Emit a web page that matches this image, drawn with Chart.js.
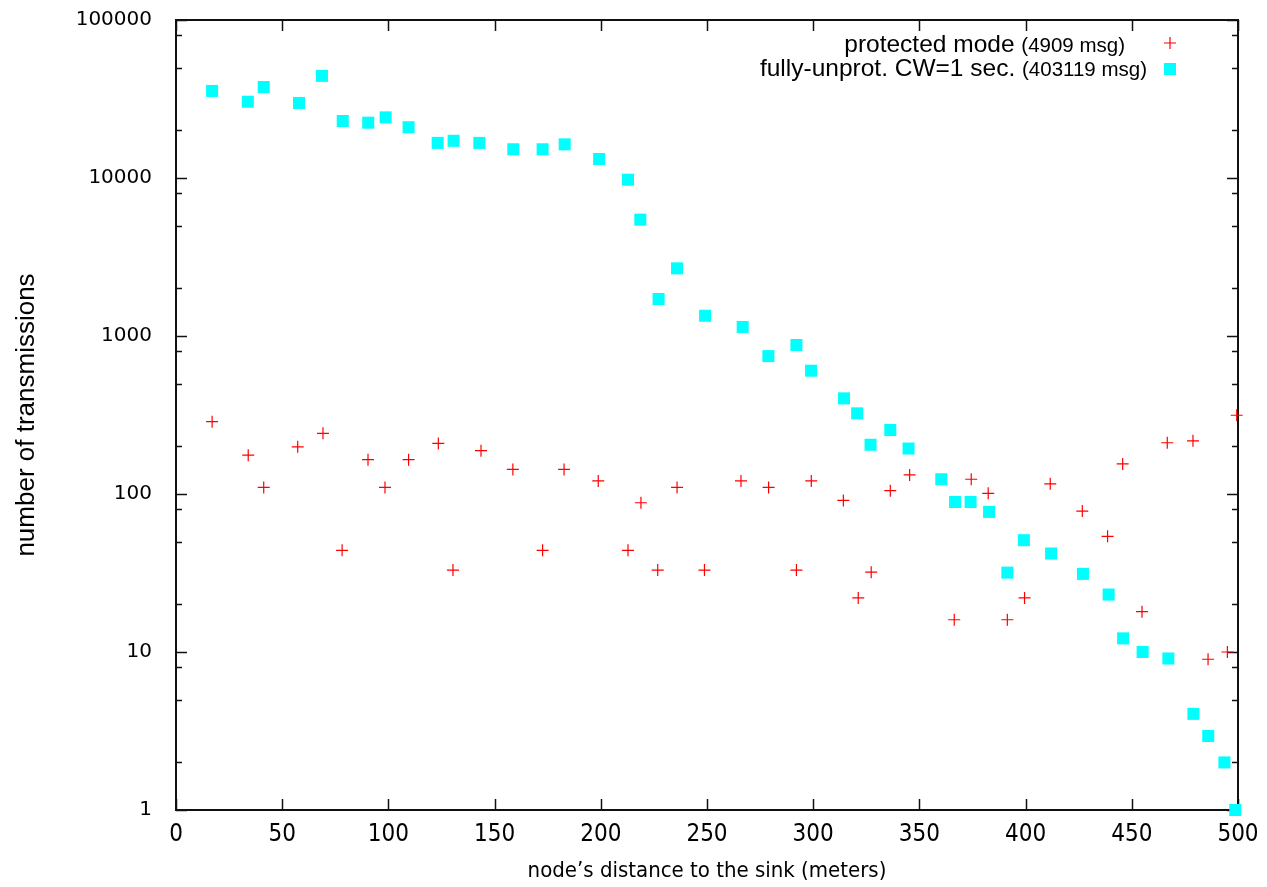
<!DOCTYPE html>
<html>
<head>
<meta charset="utf-8">
<script src="https://cdn.jsdelivr.net/npm/chart.js@4.4.1/dist/chart.umd.min.js"></script>
<style>
  html, body { margin: 0; padding: 0; background: #fff; }
  #c { display: block; }
</style>
</head>
<body>
<canvas id="c" width="1267" height="887"></canvas>
<script>
// datos (distancia en metros / nº de transmisiones)
var distProt = [17, 34, 41.3, 57.3, 69.2, 78.2, 90.4, 98.4, 109.5, 123.5, 130.4, 143.6, 158.6, 172.6, 182.7,
  198.8, 212.8, 218.9, 226.8, 235.9, 248.8, 266, 279, 292.1, 299.1, 314.2, 321.2, 327.3, 336.3, 345.4,
  366.4, 374.4, 382.4, 391.4, 399.5, 411.6, 426.7, 438.6, 445.7, 454.8, 466.7, 478.8, 485.9, 495, 499.4];
var txProt = [287, 176, 110, 199, 242, 44, 165, 110, 165, 209, 33, 188, 143, 44, 143,
  121, 44, 88, 33, 110, 33, 121, 110, 33, 121, 91, 22, 32, 105, 132,
  16, 124, 101, 16, 22, 116, 78, 54, 155, 18, 211, 217, 9, 10, 315];

var distUnprot = [17, 33.8, 41.3, 57.9, 68.7, 78.5, 90.5, 98.7, 109.5, 123.2, 130.7, 142.8, 158.8, 172.6, 183,
  199.2, 212.8, 218.6, 227.2, 235.9, 249.1, 266.8, 278.9, 292.1, 299, 314.5, 320.7, 327, 336.3, 344.9,
  360.3, 366.8, 374.1, 382.8, 391.4, 399.2, 412, 427, 439.1, 445.9, 455.1, 467.2, 479, 486, 493.6, 498.7];
var txUnprot = [35560, 30400, 37650, 29850, 44300, 22950, 22400, 24200, 20950, 16680, 17200, 16680, 15200, 15200, 16330,
  13190, 9750, 5450, 1714, 2680, 1343, 1141, 746, 877, 603, 403, 324, 205, 254, 194,
  124, 89, 89, 77, 31.8, 51, 42, 31.2, 23.1, 12.2, 10, 9.1, 4.06, 2.94, 2, 1];

var xTicks = [0, 50, 100, 150, 200, 250, 300, 350, 400, 450, 500];
var yTicks = [1, 10, 100, 1000, 10000, 100000];
var yMinor = [2, 5, 8];

var legendMain = ['protected mode', 'fully-unprot. CW=1 sec.'];
var legendNote = ['(4909 msg)', '(403119 msg)'];

var RED = '#ff0000', CYAN = '#00ffff';
var SANS = "'Liberation Sans', Arial, sans-serif";
var NARROW = "'DejaVu Sans Condensed', 'Liberation Sans', sans-serif";

function pts(xs, ys) { return xs.map(function (x, i) { return { x: x, y: ys[i] }; }); }
function noPad(s) { s.paddingTop = s.paddingBottom = s.paddingLeft = s.paddingRight = 0; }

// marco tipo gnuplot: borde + ticks hacia adentro en los 4 lados
var frame = {
  id: 'frame',
  beforeDatasetsDraw: function (chart) {
    var ctx = chart.ctx, a = chart.chartArea, sx = chart.scales.x, sy = chart.scales.y;
    ctx.save();
    ctx.strokeStyle = '#111';
    ctx.lineWidth = 1.5;
    ctx.beginPath();
    xTicks.forEach(function (v) {
      var p = Math.round(sx.getPixelForValue(v)) + 0.5;
      ctx.moveTo(p, a.bottom); ctx.lineTo(p, a.bottom - 11);
      ctx.moveTo(p, a.top); ctx.lineTo(p, a.top + 11);
    });
    yTicks.forEach(function (v, i) {
      var p = Math.round(sy.getPixelForValue(v)) + 0.5;
      ctx.moveTo(a.left, p); ctx.lineTo(a.left + 11, p);
      ctx.moveTo(a.right, p); ctx.lineTo(a.right - 11, p);
      if (i === yTicks.length - 1) return;
      yMinor.forEach(function (m) {
        var q = Math.round(sy.getPixelForValue(v * m)) + 0.5;
        ctx.moveTo(a.left, q); ctx.lineTo(a.left + 6, q);
        ctx.moveTo(a.right, q); ctx.lineTo(a.right - 6, q);
      });
    });
    ctx.stroke();
    ctx.lineWidth = 2;
    ctx.strokeRect(a.left, a.top, a.right - a.left, a.bottom - a.top);
    ctx.restore();
  }
};

// leyenda alineada a la derecha con el marcador a la derecha del texto
var keyBox = {
  id: 'keyBox',
  afterDraw: function (chart) {
    var ctx = chart.ctx;
    var rows = [{ right: 1125, y: 45 }, { right: 1147, y: 69 }];
    var mx = 1170;
    ctx.save();
    ctx.fillStyle = '#000';
    ctx.textBaseline = 'middle';
    ctx.textAlign = 'right';
    rows.forEach(function (r, i) {
      ctx.font = '20.5px ' + SANS;
      var wn = ctx.measureText(legendNote[i]).width;
      ctx.fillText(legendNote[i], r.right, r.y + 1);
      ctx.font = '24.5px ' + SANS;
      ctx.fillText(legendMain[i] + ' ', r.right - wn, r.y);
    });
    ctx.strokeStyle = RED; ctx.lineWidth = 1.2;
    ctx.beginPath();
    ctx.moveTo(mx - 6, rows[0].y - 2); ctx.lineTo(mx + 6, rows[0].y - 2);
    ctx.moveTo(mx, rows[0].y - 8); ctx.lineTo(mx, rows[0].y + 4);
    ctx.stroke();
    ctx.fillStyle = CYAN;
    ctx.fillRect(mx - 6, rows[1].y - 6, 12, 12);
    ctx.restore();
  }
};

new Chart(document.getElementById('c'), {
  type: 'scatter',
  data: {
    datasets: [
      { label: legendMain[0], data: pts(distProt, txProt), pointStyle: 'cross', radius: 6,
        borderColor: RED, backgroundColor: RED, borderWidth: 1.2, order: 2, clip: false },
      { label: legendMain[1], data: pts(distUnprot, txUnprot), pointStyle: 'rect', radius: 8.5,
        borderColor: CYAN, backgroundColor: CYAN, borderWidth: 0, order: 1, clip: false }
    ]
  },
  options: {
    responsive: false,
    animation: false,
    devicePixelRatio: 1,
    events: [],
    layout: { padding: { top: 20, right: 29, left: 0, bottom: 0 } },
    plugins: { legend: { display: false }, tooltip: { enabled: false } },
    scales: {
      x: {
        type: 'linear', min: 0, max: 500,
        afterBuildTicks: function (s) { s.ticks = xTicks.map(function (v) { return { value: v }; }); },
        afterFit: function (s) { s.height = 77; noPad(s); },
        grid: { display: false, drawTicks: false },
        border: { display: false },
        ticks: { color: '#000', padding: 10, maxRotation: 0, autoSkip: false,
          font: { family: NARROW, size: 24 }, callback: function (v) { return String(v); } },
        title: { display: true, text: 'node\u2019s distance to the sink (meters)', color: '#000',
          font: { family: NARROW, size: 22 }, padding: { top: 0, bottom: 3 } }
      },
      y: {
        type: 'logarithmic', min: 1, max: 100000,
        afterBuildTicks: function (s) { s.ticks = yTicks.map(function (v) { return { value: v }; }); },
        afterFit: function (s) { s.width = 176; noPad(s); },
        grid: { display: false, drawTicks: false },
        border: { display: false },
        ticks: { color: '#000', padding: 24, autoSkip: false,
          font: { family: "'DejaVu Sans', sans-serif", size: 20 }, callback: function (v) { return String(v); } },
        title: { display: true, text: 'number of transmissions', color: '#000',
          font: { family: SANS, size: 26 }, padding: { top: 11, bottom: 0 } }
      }
    }
  },
  plugins: [frame, keyBox]
});
</script>
</body>
</html>
